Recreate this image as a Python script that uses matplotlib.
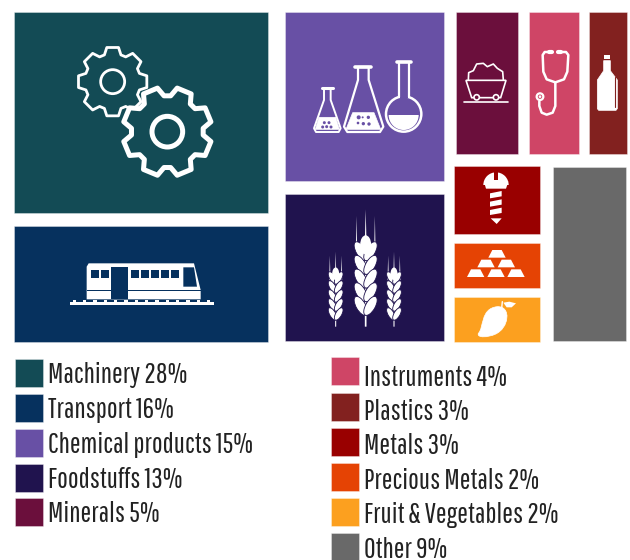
"""Export composition treemap with pictograms and a two column legend."""

import matplotlib.pyplot as plt
import numpy as np
from matplotlib.patches import Circle, Ellipse, PathPatch, Polygon, Wedge
from matplotlib.path import Path
from matplotlib.transforms import Affine2D

W_PX, H_PX = 630, 560

# Data
# ----
categories = ["Machinery", "Transport", "Chemical products", "Foodstuffs", "Minerals",
              "Instruments", "Plastics", "Metals", "Precious Metals",
              "Fruit & Vegetables", "Other"]
shares = [28, 16, 15, 13, 5, 4, 3, 3, 2, 2, 9]
colors = ["#134B55", "#06315E", "#6850A5", "#20134E", "#6B0F3C", "#CF4566",
          "#82211F", "#990000", "#E54304", "#FCA01F", "#696969"]
share = dict(zip(categories, shares))

fig = plt.figure(figsize=(W_PX / 100, H_PX / 100), dpi=100)
ax = fig.add_axes([0, 0, 1, 1])
ax.set_xlim(0, W_PX)
ax.set_ylim(H_PX, 0)
ax.axis("off")


# Treemap: blocks are fixed, tiles inside are split by share
# ----------------------------------------------------------
def split(names, start, end, gap):
    total = sum(share[n] for n in names)
    room = end - start - gap * (len(names) - 1)
    out = {}
    pos = start
    for n in names:
        size = room * share[n] / total
        out[n] = (pos, size)
        pos += size + gap
    return out


tiles = {}
for n, (y, h) in split(["Machinery", "Transport"], 11.5, 341.5, 13).items():
    tiles[n] = (13.5, 254.5, y, h)
for n, (y, h) in split(["Chemical products", "Foodstuffs"], 11.5, 341, 12.5).items():
    tiles[n] = (285, 159, y, h)
for n, (x, w) in split(["Minerals", "Instruments", "Plastics"], 456, 626.5, 10.5).items():
    tiles[n] = (x, w, 11.5, 142.5)
for n, (y, h) in split(["Metals", "Precious Metals", "Fruit & Vegetables"], 166, 341.5, 9).items():
    tiles[n] = (453.5, 86, y, h)
tiles["Other"] = (553, 72.5, 167, 173.5)

ax.bar([tiles[n][0] for n in categories], [tiles[n][3] for n in categories],
       width=[tiles[n][1] for n in categories], bottom=[tiles[n][2] for n in categories],
       align="edge", color=colors, edgecolor=(1, 1, 1, 0.35), linewidth=0.7)

# Legend
# ------
FONT = ["Pathway Gothic One", "Liberation Sans Narrow", "Roboto"]
for i, (name, val, col) in enumerate(zip(categories, shares, colors)):
    if i < 5:
        x, top, base = 14.5, 359 + i * 34.85, 383.5 + i * 34.7
    else:
        x, top, base = 330.5, 357.3 + (i - 5) * 35.2, 385.5 + (i - 5) * 34.5
    ax.bar(x, 28, width=28, bottom=top, align="edge", color=col,
           edgecolor=(1, 1, 1, 0.35), linewidth=0.7, clip_on=True)
    ax.text(x + 34, base, f"{name} {val}%", fontsize=20.5, family=FONT,
            color="#222222", ha="left", va="baseline")

# Pictograms, coordinates are in 3x pixels
# ----------------------------------------
left = Affine2D().scale(1 / 3) + ax.transData
right = Affine2D().scale(1 / 3).translate(280, 0) + ax.transData
WHITE = "white"


def poly(pts, tr=right, fc=WHITE, ec="none", lw=0, **kw):
    ax.add_patch(Polygon(pts, closed=True, fc=fc, ec=ec, lw=lw, transform=tr, **kw))


def line(pts, tr=right, lw=1.5, color=WHITE):
    xs, ys = zip(*pts)
    ax.plot(xs, ys, color=color, lw=lw, transform=tr, solid_capstyle="round",
            solid_joinstyle="round")


def gear(cx, cy, r_out, r_root, phase, lw, hole):
    pts = []
    step = 2 * np.pi / 8
    for k in range(8):
        a = phase + k * step
        for da, r in [(-0.30, r_root), (-0.17, r_out), (0.17, r_out), (0.30, r_root)]:
            pts.append((cx + r * np.sin(a + da), cy - r * np.cos(a + da)))
    poly(pts, tr=left, fc=colors[0], ec=WHITE, lw=lw, joinstyle="round")
    ax.add_patch(Circle((cx, cy), hole, fc="none", ec=WHITE, lw=lw, transform=left))


# gears
gear(338, 245, 104, 84, 0, 2.0, 36)
gear(502, 395, 134, 108, np.pi / 8, 3.6, 46)

# train
tc = colors[1]
poly([(260, 800), (266, 790), (582, 790), (602, 870), (602, 898), (260, 898)], tr=left)
poly([(332, 800), (385, 800), (385, 898), (332, 898)], tr=left, fc=tc)
for x in [272, 302, 392, 422, 452, 482, 512]:
    poly([(x, 810), (x + 24, 810), (x + 24, 835), (x, 835)], tr=left, fc=tc)
poly([(550, 802), (582, 802), (591, 860), (550, 860)], tr=left, fc=tc)
poly([(260, 869), (602, 869), (602, 873), (260, 873)], tr=left, fc=tc)
poly([(210, 906), (642, 906), (642, 914), (210, 914)], tr=left)
for x in range(218, 640, 31):
    poly([(x, 900), (x + 10, 900), (x + 10, 906), (x, 906)], tr=left)

# flasks
line([(127, 265), (158, 265)], lw=2.2)
poly([(132, 265), (152, 265), (152, 300), (182, 385), (176, 396), (108, 396), (102, 385), (132, 300)],
     fc="none", ec=WHITE, lw=1.4, joinstyle="round")
poly([(117, 352), (167, 352), (178, 388), (106, 388)], ec=WHITE, lw=0.5)
for x, y in [(133, 368), (147, 368), (140, 380), (153, 381), (128, 381)]:
    ax.add_patch(Circle((x, y), 4.5, fc=colors[2], ec="none", transform=right))
line([(226, 201), (274, 201)], lw=2.6)
poly([(234, 201), (266, 201), (266, 240), (310, 380), (300, 396), (202, 396), (192, 380), (234, 240)],
     fc="none", ec=WHITE, lw=1.6, joinstyle="round")
poly([(218, 338), (282, 338), (302, 388), (198, 388)], ec=WHITE, lw=0.5)
for x, y, r in [(236, 352, 6), (265, 352, 5), (234, 369, 4), (250, 371, 5), (267, 372, 5), (248, 352, 3)]:
    ax.add_patch(Circle((x, y), r, fc=colors[2], ec="none", transform=right))
line([(350, 185), (393, 185)], lw=2.6)
line([(358, 185), (358, 292)], lw=1.6)
line([(386, 185), (386, 292)], lw=1.6)
ax.add_patch(Circle((371, 342), 53, fc="none", ec=WHITE, lw=1.8, transform=right))
ax.add_patch(Wedge((371, 345), 45, 0, 180, fc=WHITE, ec="none", transform=right))
# cover the circle under the neck
poly([(360, 284), (384, 284), (384, 294), (360, 294)], fc=colors[2])


# wheat
def wheat(x, top, head_top, head_bot, half, bottom, lw):
    poly([(x - lw, bottom), (x + lw, bottom), (x + lw, head_top), (x, top), (x - lw, head_top)])
    for s in (-1, 1):
        poly([(x + s * half * 0.92 - 2, head_top + 25), (x + s * half * 0.92 + 2, head_top + 25),
              (x + s * half * 0.92, head_top - (head_top - top) * 0.8)])
    n = 5
    ln = (head_bot - head_top) / n * 1.55
    for k in range(n):
        y = head_top + (k + 0.7) * (head_bot - head_top) / n
        for s in (-1, 1):
            ax.add_patch(Ellipse((x + s * half * 0.48, y), half * 0.95, ln, angle=s * 30,
                                 fc=WHITE, ec=colors[3], lw=0.6, transform=right))
    ax.add_patch(Ellipse((x, head_top + ln * 0.15), half * 1.1, ln * 0.9, fc=WHITE,
                         transform=right))


wheat(257, 628, 725, 930, 30, 980, 2.5)
wheat(167, 755, 815, 950, 19, 980, 1.6)
wheat(342, 755, 815, 950, 19, 980, 1.6)

# mine cart
line([(553, 305), (685, 305)], lw=1.2)
poly([(558, 241), (678, 241), (662, 293), (575, 293)], fc="none", ec=WHITE, lw=1.2)
line([(565, 240), (566, 218), (580, 212), (590, 192), (610, 190), (622, 200), (640, 192),
      (652, 205), (668, 215), (670, 240)], lw=1.2)
for x in (590, 648):
    ax.add_patch(Circle((x, 292), 8, fc=colors[4], ec=WHITE, lw=1.2, transform=right, zorder=3))

# stethoscope
line([(808, 156), (794, 156), (788, 165), (790, 215), (800, 238), (826, 247), (852, 238),
      (862, 215), (865, 165), (858, 156), (838, 156)], lw=1.8)
line([(808, 156), (815, 156)], lw=3)
line([(835, 156), (843, 156)], lw=3)
line([(826, 247), (826, 318), (818, 338), (800, 344), (785, 338), (778, 318), (778, 304)], lw=1.8)
ax.add_patch(Circle((780, 290), 10, fc="none", ec=WHITE, lw=1.6, transform=right))
ax.add_patch(Circle((780, 290), 4, fc=WHITE, transform=right))

# bottle
poly([(972, 165), (990, 165), (990, 178), (972, 178)])
poly([(971, 182), (991, 182), (991, 212), (1012, 240), (1012, 326), (1008, 331),
      (956, 331), (952, 326), (952, 240), (971, 212)], ec=WHITE, lw=0.5, joinstyle="round")
line([(1004, 232), (1004, 320)], lw=0.8, color=colors[6])

# screw
ax.add_patch(Wedge((648, 555), 38, 180, 360, fc=WHITE, ec="none", transform=right))
poly([(612, 545), (685, 545), (678, 566), (618, 566)])
poly([(641, 515), (655, 515), (655, 541), (641, 541)], fc=colors[7])
for y in [575, 600, 625]:
    poly([(630, y + 5), (665, y - 2), (665, y + 14), (630, y + 20)])
poly([(632, 655), (665, 655), (650, 672)])

# gold bars
for x0, y0 in [(651, 750), (618, 779), (679, 779), (587, 808), (648, 808), (708, 808)]:
    poly([(x0 - 14, y0), (x0 + 14, y0), (x0 + 26, y0 + 23), (x0 - 26, y0 + 23)])

# mango
M, C4, CL = Path.MOVETO, Path.CURVE4, Path.CLOSEPOLY
mango = Path([(595, 1000), (612, 985), (600, 925), (652, 920), (695, 918), (688, 985),
              (645, 1003), (625, 1012), (590, 1015), (595, 1000), (595, 1000)],
             [M, C4, C4, C4, C4, C4, C4, C4, C4, C4, CL])
ax.add_patch(PathPatch(mango, fc=WHITE, ec=WHITE, lw=0.5, transform=right))
line([(665, 925), (667, 905)], lw=1.0)
poly([(670, 908), (688, 905), (708, 910), (695, 922), (680, 922)])

fig.savefig("out.png", dpi=100)
